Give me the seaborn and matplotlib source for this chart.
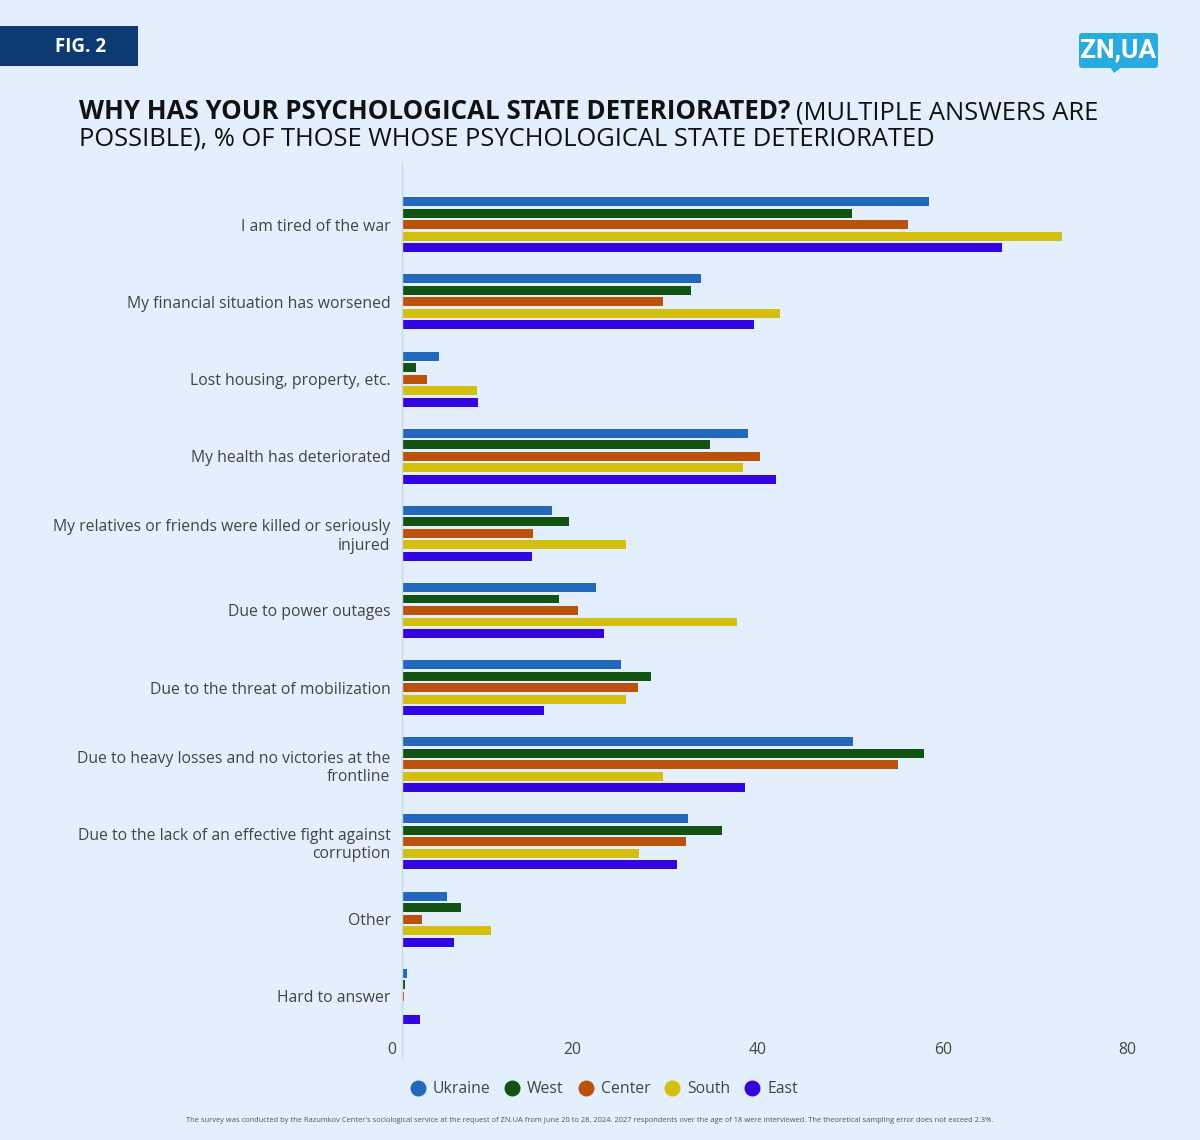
import matplotlib
matplotlib.use("Agg")
import matplotlib.pyplot as plt
import matplotlib.transforms as mtransforms
from matplotlib.patches import Rectangle, FancyBboxPatch, Polygon
from matplotlib.lines import Line2D
import seaborn as sns
import pandas as pd

# data
categories = [
    "I am tired of the war",
    "My financial situation has worsened",
    "Lost housing, property, etc.",
    "My health has deteriorated",
    "My relatives or friends were killed or seriously injured",
    "Due to power outages",
    "Due to the threat of mobilization",
    "Due to heavy losses and no victories at the frontline",
    "Due to the lack of an effective fight against corruption",
    "Other",
    "Hard to answer",
]
tick_labels = [
    "I am tired of the war",
    "My financial situation has worsened",
    "Lost housing, property, etc.",
    "My health has deteriorated",
    "My relatives or friends were killed or seriously\ninjured",
    "Due to power outages",
    "Due to the threat of mobilization",
    "Due to heavy losses and no victories at the\nfrontline",
    "Due to the lack of an effective fight against\ncorruption",
    "Other",
    "Hard to answer",
]
regions = ["Ukraine", "West", "Center", "South", "East"]
ukraine = [57.0, 32.4, 4.0, 37.4, 16.3, 21.0, 23.7, 48.8, 31.0, 4.9, 0.6]
west = [48.7, 31.3, 1.5, 33.3, 18.1, 17.0, 27.0, 56.5, 34.6, 6.4, 0.4]
center = [54.7, 28.3, 2.7, 38.7, 14.2, 19.1, 25.5, 53.7, 30.7, 2.2, 0.3]
south = [71.4, 40.9, 8.1, 36.9, 24.2, 36.2, 24.2, 28.2, 25.7, 9.7, 0.0]
east = [64.9, 38.1, 8.3, 40.5, 14.1, 21.9, 15.4, 37.1, 29.8, 5.7, 2.0]
x_ticks = [0, 20, 40, 60, 80]

colors = ["#2368bb", "#125213", "#bb5209", "#d4bf0e", "#3306e0"]
bg = "#e3effc"
text_col = "#444444"

rows = []
for reg, vals in zip(regions, [ukraine, west, center, south, east]):
    for cat, v in zip(categories, vals):
        rows.append({"category": cat, "region": reg, "value": v})
df = pd.DataFrame(rows)

sns.set_style("white")
plt.rcParams["font.family"] = ["Open Sans", "DejaVu Sans"]

W, H = 1200, 1140
fig = plt.figure(figsize=(W / 100, H / 100), dpi=100, facecolor=bg)
ax = fig.add_axes([401.7 / W, 1 - 1058 / H, (1141.7 - 401.7) / W, (1058 - 163) / H])
ax.set_facecolor(bg)

sns.barplot(data=df, x="value", y="category", hue="region", order=categories,
            hue_order=regions, palette=colors, orient="h", width=0.745, gap=0.22,
            errorbar=None, legend=False, ax=ax, saturation=1, linewidth=0)

ax.set_xlim(0, 80)
ax.set_ylim(10.8, -0.8)
ax.set_xlabel("")
ax.set_ylabel("")
ax.set_xticks([])
ax.set_yticks(range(len(categories)))
ax.set_yticklabels(tick_labels, linespacing=1.2)
ax.tick_params(axis="y", length=0, pad=8, labelsize=11.3, labelcolor=text_col)
for s in ["top", "right", "bottom"]:
    ax.spines[s].set_visible(False)
ax.spines["left"].set_color("#c9d6e3")
ax.spines["left"].set_linewidth(1)

# x tick labels, right-aligned just left of each tick
trans = mtransforms.blended_transform_factory(ax.transData, fig.transFigure)
trans = trans + mtransforms.ScaledTranslation(-5 / 100, 0, fig.dpi_scale_trans)
for v in x_ticks:
    ax.text(v, 1 - 1050 / H, str(v), transform=trans, ha="right", va="center",
            fontsize=11.3, color=text_col)

# legend
handles = [Line2D([], [], marker="o", linestyle="", markersize=10.5,
                  markerfacecolor=c, markeredgecolor=c) for c in colors]
fig.legend(handles, regions, loc="center", bbox_to_anchor=(603 / W, 1 - 1089 / H),
           ncol=5, frameon=False, fontsize=11.3, labelcolor=text_col,
           handletextpad=0.35, columnspacing=0.8, handlelength=1.2)

# title
renderer = fig.canvas.get_renderer()
t1 = fig.text(79 / W, 1 - 119 / H, "WHY HAS YOUR PSYCHOLOGICAL STATE DETERIORATED?",
              fontsize=18.6, fontweight="bold", color="#111111", va="baseline")
bb = t1.get_window_extent(renderer)
fig.text(bb.x1 / W + 6 / W, 1 - 119 / H, "(MULTIPLE ANSWERS ARE",
         fontsize=18.4, color="#111111", va="baseline")
fig.text(79 / W, 1 - 145 / H, "POSSIBLE), % OF THOSE WHOSE PSYCHOLOGICAL STATE DETERIORATED",
         fontsize=18.4, color="#111111", va="baseline")

# fig label box
fig.patches.append(Rectangle((0, 1 - 66 / H), 138 / W, 40 / H, transform=fig.transFigure,
                             facecolor="#0d3a72", edgecolor="none"))
fig.text(81 / W, 1 - 47 / H, "FIG. 2", color="white", fontsize=13.5, fontweight="bold",
         ha="center", va="center")

# logo
fig.patches.append(FancyBboxPatch((1079 / W, 1 - 68 / H), 79 / W, 35 / H,
                                  boxstyle="round,pad=0,rounding_size=0.003",
                                  transform=fig.transFigure, facecolor="#29abe2",
                                  edgecolor="none"))
fig.patches.append(Polygon([(1110 / W, 1 - 67 / H), (1122 / W, 1 - 67 / H),
                            (1114 / W, 1 - 73 / H)], closed=True,
                           transform=fig.transFigure, facecolor="#29abe2", edgecolor="none"))
fig.text(1118.5 / W, 1 - 50 / H, "ZN,UA", color="white", fontsize=19, fontweight="bold",
         family="Roboto", ha="center", va="center")

# footer
fig.text(590 / W, 1 - 1120 / H,
         "The survey was conducted by the Razumkov Center's sociological service at the request "
         "of ZN.UA from June 20 to 28, 2024. 2027 respondents over the age of 18 were interviewed. "
         "The theoretical sampling error does not exceed 2.3%.",
         fontsize=5.4, color="#555555", ha="center", va="center")

fig.savefig("out.png", dpi=100, facecolor=bg)
